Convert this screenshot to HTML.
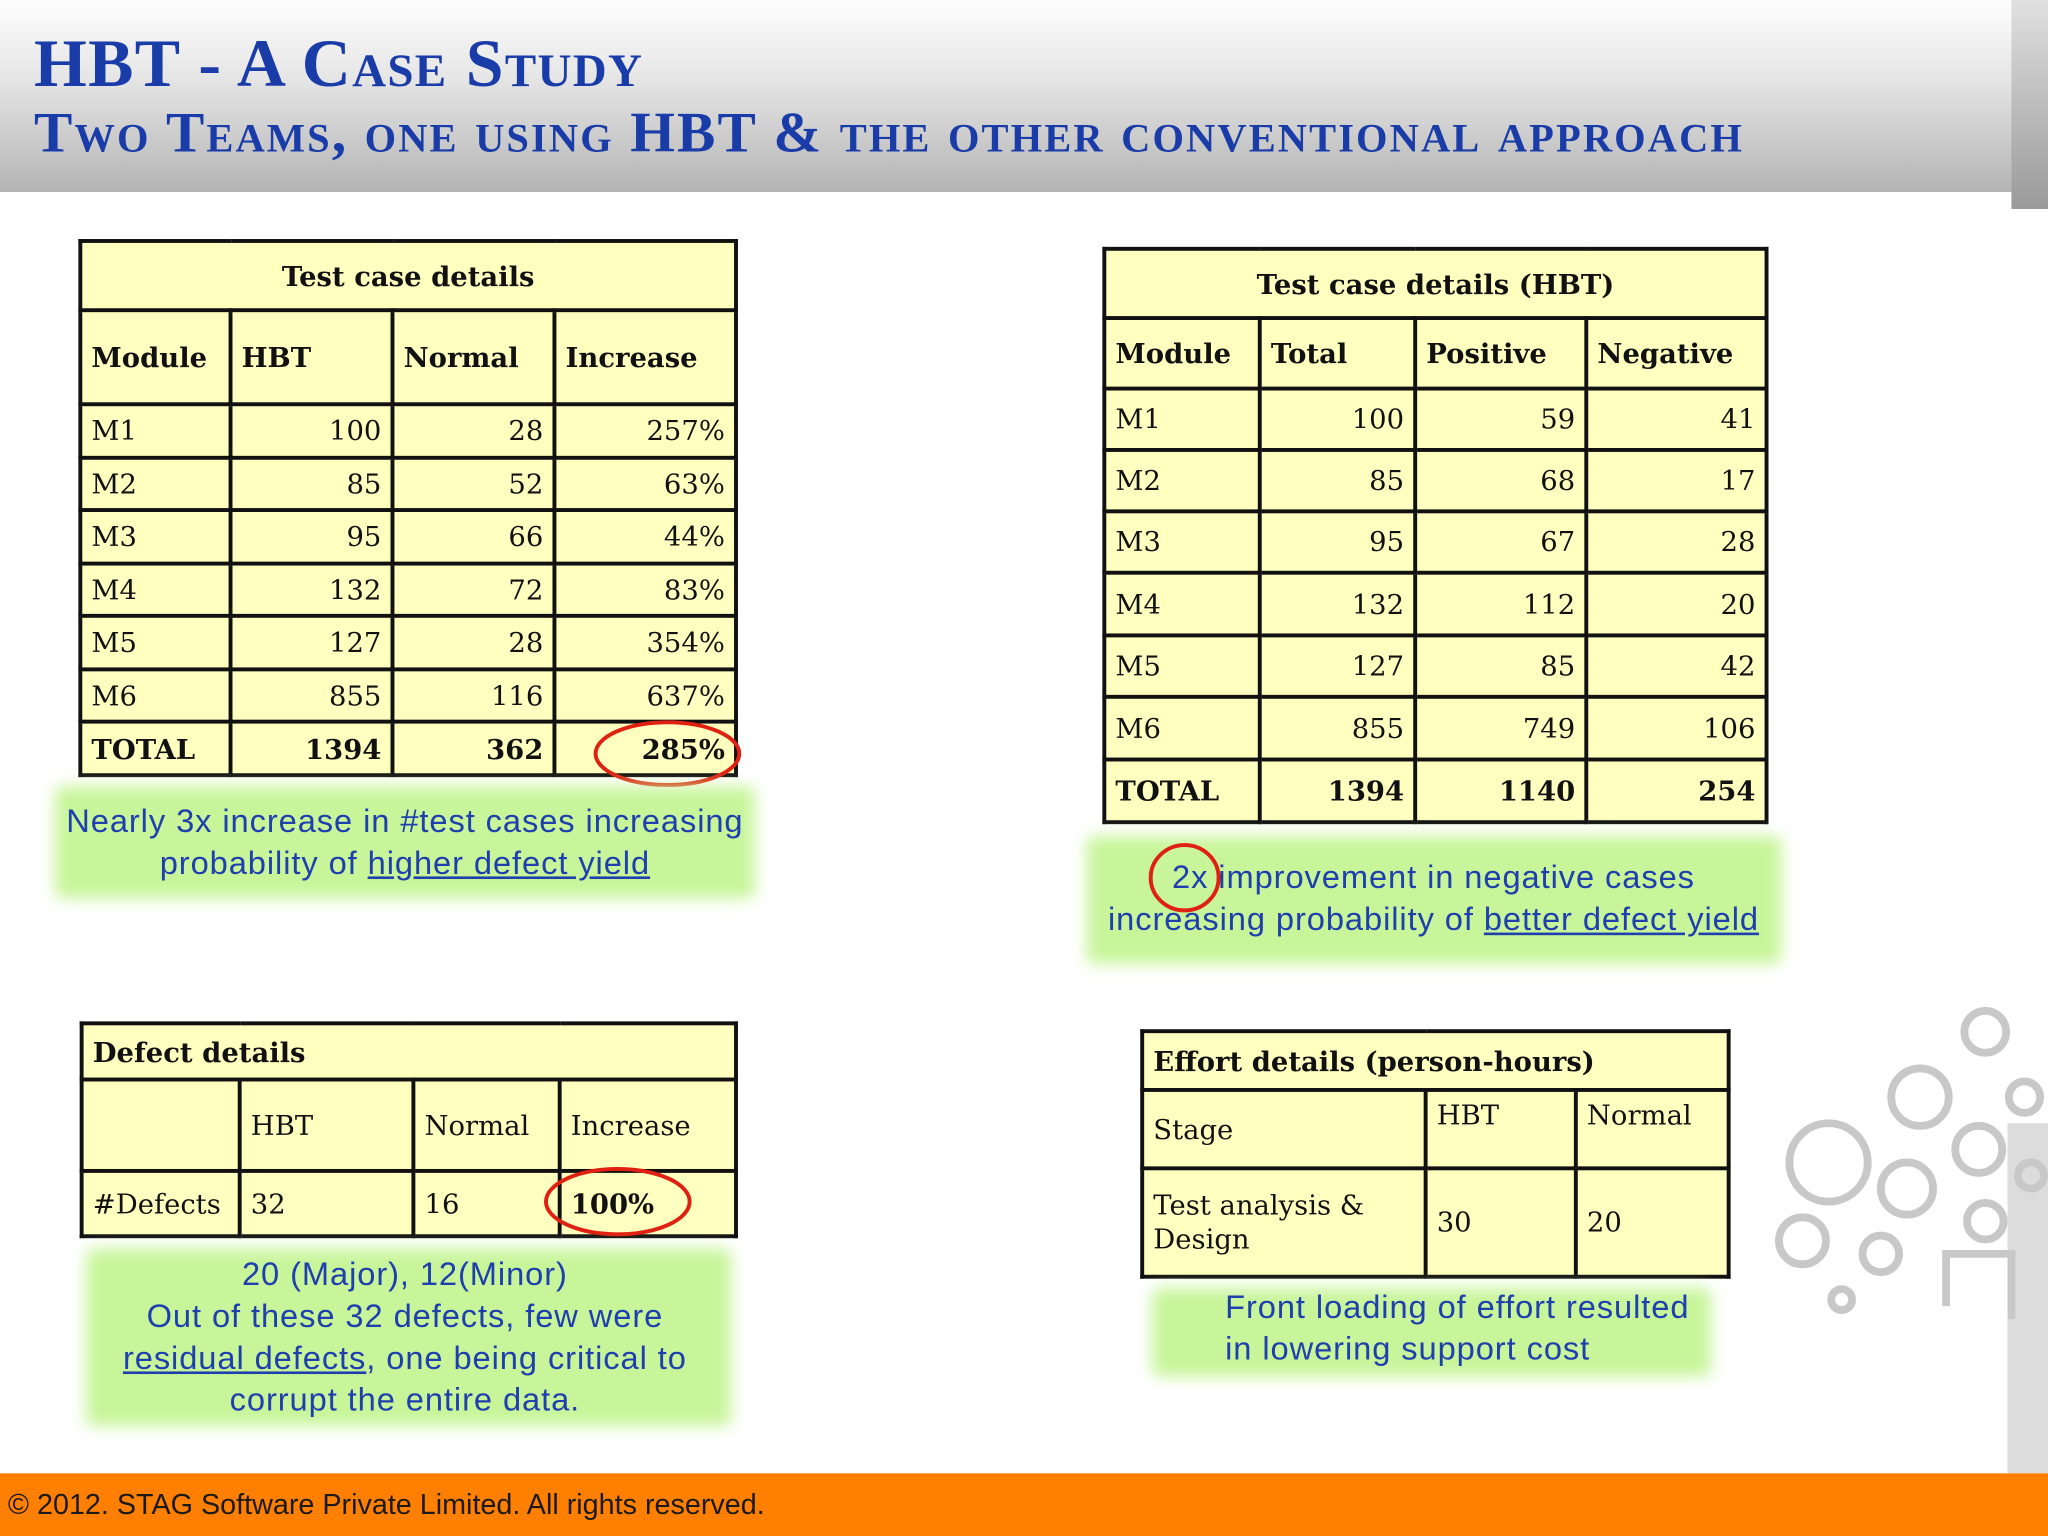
<!DOCTYPE html>
<html><head><meta charset="utf-8">
<style>
html,body{margin:0;padding:0;width:2048px;height:1536px;overflow:hidden;background:#fff}
#wrap{position:absolute;left:0;top:0;width:1568px;height:1176px;transform:scale(1.30612);transform-origin:0 0;background:#fff;font-family:"Liberation Sans",sans-serif}
.hdr{position:absolute;left:0;top:0;width:1568px;height:147px;background:linear-gradient(#fdfdfd 0%,#e6e6e6 40%,#b4b4b4 100%)}
.t1{position:absolute;left:26px;top:20px;font-family:"Liberation Serif",serif;font-variant:small-caps;font-weight:bold;color:#1a3ca8;font-size:52px;letter-spacing:1px}
.t2{position:absolute;left:26px;top:76px;font-family:"Liberation Serif",serif;font-variant:small-caps;font-weight:bold;color:#1a3ca8;font-size:44px;letter-spacing:1.6px;white-space:nowrap}
table{position:absolute;border-collapse:collapse;background:#ffffc0;font-family:"DejaVu Serif","Liberation Serif",serif;font-size:21px;color:#111;table-layout:fixed}
td{border:3px solid #111;padding:0 7px;white-space:nowrap;overflow:hidden}
.b{font-weight:bold}
.r{text-align:right}
.c{text-align:center}
.glow{position:absolute;background:#c8f59a;filter:blur(6px);border-radius:6px}
.note{position:absolute;color:#1e3fae;font-size:25px;line-height:32px;letter-spacing:0.7px;font-family:"Liberation Sans",sans-serif;white-space:nowrap}
.note u{text-decoration:underline}
.foot{position:absolute;left:0;top:1128px;width:1568px;height:48px;background:#ff8000}
.foot span{position:absolute;left:6px;top:11px;font-size:22px;color:#1a1a1a}
</style></head><body>
<div id="wrap">
<div class="hdr"></div>
<div style="position:absolute;left:1540px;top:0;width:28px;height:160px;background:linear-gradient(#e0e0e0,#9a9a9a)"></div>
<div class="t1">HBT - A Case Study</div>
<div class="t2">Two Teams, one using HBT &amp; the other conventional approach</div>

<div style="position:absolute;left:1537px;top:860px;width:31px;height:268px;background:#dcdcdc"></div>
<svg style="position:absolute;left:1340px;top:760px" width="228" height="260">
<g fill="none" stroke="#c8c8c8" stroke-width="6">
<circle cx="180" cy="30" r="16"/><circle cx="210" cy="80" r="12"/><circle cx="130" cy="80" r="22"/><circle cx="175" cy="120" r="18"/>
<circle cx="60" cy="130" r="30"/><circle cx="120" cy="150" r="20"/><circle cx="40" cy="190" r="18"/><circle cx="100" cy="200" r="14"/>
<circle cx="70" cy="235" r="8"/><circle cx="180" cy="175" r="14"/><circle cx="215" cy="140" r="10"/>
<path d="M150 240 V200 H200 V250"/></g></svg>

<table style="left:60px;top:183px;width:502px">
<colgroup><col style="width:115px"><col style="width:124px"><col style="width:124px"><col style="width:139px"></colgroup>
<tr style="height:53px"><td colspan="4" class="c b">Test case details</td></tr>
<tr style="height:72px" class="b"><td>Module</td><td>HBT</td><td>Normal</td><td>Increase</td></tr>
<tr style="height:41px"><td>M1</td><td class="r">100</td><td class="r">28</td><td class="r">257%</td></tr>
<tr style="height:40px"><td>M2</td><td class="r">85</td><td class="r">52</td><td class="r">63%</td></tr>
<tr style="height:41px"><td>M3</td><td class="r">95</td><td class="r">66</td><td class="r">44%</td></tr>
<tr style="height:40px"><td>M4</td><td class="r">132</td><td class="r">72</td><td class="r">83%</td></tr>
<tr style="height:41px"><td>M5</td><td class="r">127</td><td class="r">28</td><td class="r">354%</td></tr>
<tr style="height:40px"><td>M6</td><td class="r">855</td><td class="r">116</td><td class="r">637%</td></tr>
<tr style="height:41px" class="b"><td>TOTAL</td><td class="r">1394</td><td class="r">362</td><td class="r">285%</td></tr>
</table>
<svg style="position:absolute;left:450px;top:550px" width="125" height="56"><ellipse cx="61" cy="27" rx="55" ry="24" fill="none" stroke="#e02010" stroke-width="3"/></svg>

<div class="glow" style="left:42px;top:602px;width:536px;height:86px"></div>
<div class="note" style="left:40px;top:613px;width:540px;text-align:center">Nearly 3x increase in #test cases increasing<br>probability of <u>higher defect yield</u></div>

<table style="left:844px;top:189px;width:507px">
<colgroup><col style="width:119px"><col style="width:119px"><col style="width:131px"><col style="width:138px"></colgroup>
<tr style="height:53px"><td colspan="4" class="c b">Test case details (HBT)</td></tr>
<tr style="height:54px" class="b"><td>Module</td><td>Total</td><td>Positive</td><td>Negative</td></tr>
<tr style="height:47px"><td>M1</td><td class="r">100</td><td class="r">59</td><td class="r">41</td></tr>
<tr style="height:47px"><td>M2</td><td class="r">85</td><td class="r">68</td><td class="r">17</td></tr>
<tr style="height:47px"><td>M3</td><td class="r">95</td><td class="r">67</td><td class="r">28</td></tr>
<tr style="height:48px"><td>M4</td><td class="r">132</td><td class="r">112</td><td class="r">20</td></tr>
<tr style="height:47px"><td>M5</td><td class="r">127</td><td class="r">85</td><td class="r">42</td></tr>
<tr style="height:48px"><td>M6</td><td class="r">855</td><td class="r">749</td><td class="r">106</td></tr>
<tr style="height:48px" class="b"><td>TOTAL</td><td class="r">1394</td><td class="r">1140</td><td class="r">254</td></tr>
</table>

<div class="glow" style="left:832px;top:640px;width:532px;height:98px"></div>
<div class="note" style="left:820px;top:656px;width:555px;text-align:center">2x improvement in negative cases<br>increasing probability of <u>better defect yield</u></div>
<svg style="position:absolute;left:878px;top:644px" width="58" height="56"><ellipse cx="29" cy="28" rx="26" ry="25" fill="none" stroke="#e02010" stroke-width="3"/></svg>

<table style="left:61px;top:782px;width:501px">
<colgroup><col style="width:121px"><col style="width:133px"><col style="width:112px"><col style="width:135px"></colgroup>
<tr style="height:43px"><td colspan="4" class="b">Defect details</td></tr>
<tr style="height:70px"><td></td><td>HBT</td><td>Normal</td><td>Increase</td></tr>
<tr style="height:50px"><td>#Defects</td><td>32</td><td>16</td><td class="b">100%</td></tr>
</table>
<svg style="position:absolute;left:414px;top:892px" width="120" height="56"><ellipse cx="59" cy="28" rx="55" ry="25" fill="none" stroke="#e02010" stroke-width="3"/></svg>

<div class="glow" style="left:66px;top:956px;width:494px;height:136px"></div>
<div class="note" style="left:60px;top:960px;width:500px;text-align:center">20 (Major), 12(Minor)<br>Out of these 32 defects, few were<br><u>residual defects</u>, one being critical to<br>corrupt the entire data.</div>

<table style="left:873px;top:788px;width:449px">
<colgroup><col style="width:217px"><col style="width:115px"><col style="width:117px"></colgroup>
<tr style="height:45px"><td colspan="3" class="b">Effort details (person-hours)</td></tr>
<tr style="height:60px"><td>Stage</td><td style="vertical-align:top;padding-top:6px">HBT</td><td style="vertical-align:top;padding-top:6px">Normal</td></tr>
<tr style="height:83px"><td style="white-space:normal;line-height:26px">Test analysis &amp; Design</td><td>30</td><td>20</td></tr>
</table>

<div class="glow" style="left:882px;top:986px;width:428px;height:68px"></div>
<div class="note" style="left:938px;top:985px;width:400px">Front loading of effort resulted<br>in lowering support cost</div>

<div class="foot"><span>© 2012. STAG Software Private Limited. All rights reserved.</span></div>
</div>
</body></html>
